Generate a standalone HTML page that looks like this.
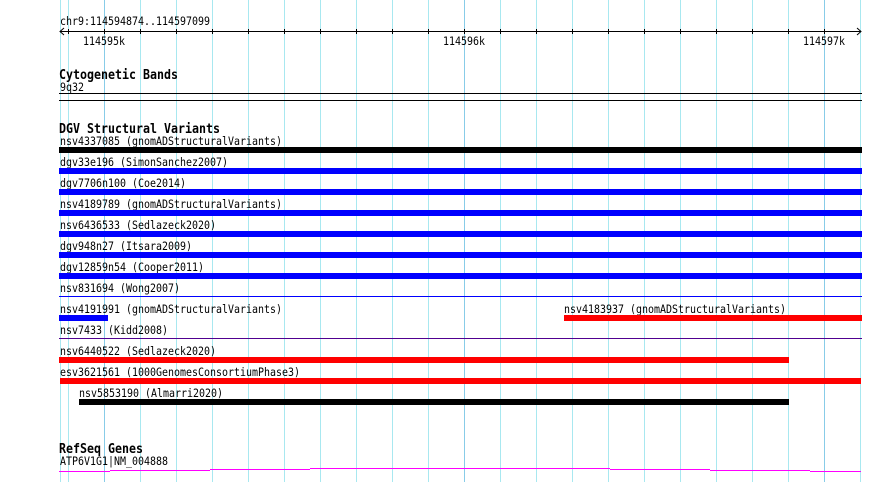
<!DOCTYPE html>
<html><head><style>
html,body{margin:0;padding:0;background:#fff;}
svg{display:block;}
text{font-family:"DejaVu Sans Mono","Liberation Mono",monospace;font-size:11.5px;fill:#000;}
.b{font-weight:bold;font-size:13px;}
</style></head><body>
<svg width="890" height="482" xmlns="http://www.w3.org/2000/svg">
<rect width="890" height="482" fill="#fff"/>
<g stroke-width="1">
<line x1="60.5" y1="0" x2="60.5" y2="482" stroke="#a8e8f0"/>
<line x1="68.5" y1="0" x2="68.5" y2="482" stroke="#a8e8f0"/>
<line x1="104.5" y1="0" x2="104.5" y2="482" stroke="#88cce8"/>
<line x1="140.5" y1="0" x2="140.5" y2="482" stroke="#a8e8f0"/>
<line x1="176.5" y1="0" x2="176.5" y2="482" stroke="#a8e8f0"/>
<line x1="212.5" y1="0" x2="212.5" y2="482" stroke="#a8e8f0"/>
<line x1="248.5" y1="0" x2="248.5" y2="482" stroke="#a8e8f0"/>
<line x1="284.5" y1="0" x2="284.5" y2="482" stroke="#a8e8f0"/>
<line x1="320.5" y1="0" x2="320.5" y2="482" stroke="#a8e8f0"/>
<line x1="356.5" y1="0" x2="356.5" y2="482" stroke="#a8e8f0"/>
<line x1="392.5" y1="0" x2="392.5" y2="482" stroke="#a8e8f0"/>
<line x1="428.5" y1="0" x2="428.5" y2="482" stroke="#a8e8f0"/>
<line x1="464.5" y1="0" x2="464.5" y2="482" stroke="#88cce8"/>
<line x1="500.5" y1="0" x2="500.5" y2="482" stroke="#a8e8f0"/>
<line x1="536.5" y1="0" x2="536.5" y2="482" stroke="#a8e8f0"/>
<line x1="572.5" y1="0" x2="572.5" y2="482" stroke="#a8e8f0"/>
<line x1="608.5" y1="0" x2="608.5" y2="482" stroke="#a8e8f0"/>
<line x1="644.5" y1="0" x2="644.5" y2="482" stroke="#a8e8f0"/>
<line x1="680.5" y1="0" x2="680.5" y2="482" stroke="#a8e8f0"/>
<line x1="716.5" y1="0" x2="716.5" y2="482" stroke="#a8e8f0"/>
<line x1="752.5" y1="0" x2="752.5" y2="482" stroke="#a8e8f0"/>
<line x1="788.5" y1="0" x2="788.5" y2="482" stroke="#a8e8f0"/>
<line x1="824.5" y1="0" x2="824.5" y2="482" stroke="#88cce8"/>
<line x1="860.5" y1="0" x2="860.5" y2="482" stroke="#a8e8f0"/>
</g>
<text x="60" y="25" textLength="150" lengthAdjust="spacingAndGlyphs">chr9:114594874..114597099</text>
<g stroke="#000" stroke-width="1" fill="none">
<line x1="60" y1="31.5" x2="861" y2="31.5"/>
<polyline points="64,28 60,31.5 64,35"/>
<polyline points="857,28 861,31.5 857,35"/>
<path d="M68.5 29v5M104.5 29v5M140.5 29v5M176.5 29v5M212.5 29v5M248.5 29v5M284.5 29v5M320.5 29v5M356.5 29v5M392.5 29v5M428.5 29v5M464.5 29v5M500.5 29v5M536.5 29v5M572.5 29v5M608.5 29v5M644.5 29v5M680.5 29v5M716.5 29v5M752.5 29v5M788.5 29v5M824.5 29v5"/>
</g>
<text x="83" y="45" textLength="42" lengthAdjust="spacingAndGlyphs">114595k</text>
<text x="443" y="45" textLength="42" lengthAdjust="spacingAndGlyphs">114596k</text>
<text x="803" y="45" textLength="42" lengthAdjust="spacingAndGlyphs">114597k</text>
<text class="b" x="59" y="79" textLength="119" lengthAdjust="spacingAndGlyphs">Cytogenetic Bands</text>
<text x="60" y="91" textLength="24" lengthAdjust="spacingAndGlyphs">9q32</text>
<line x1="59" y1="93.5" x2="862" y2="93.5" stroke="#000"/>
<line x1="59" y1="100.5" x2="862" y2="100.5" stroke="#000"/>
<text class="b" x="59" y="133" textLength="161" lengthAdjust="spacingAndGlyphs">DGV Structural Variants</text>
<text x="60" y="145" textLength="222" lengthAdjust="spacingAndGlyphs">nsv4337085 (gnomADStructuralVariants)</text>
<rect x="59" y="147" width="803" height="6" fill="#000"/>
<text x="60" y="166" textLength="168" lengthAdjust="spacingAndGlyphs">dgv33e196 (SimonSanchez2007)</text>
<rect x="59" y="168" width="803" height="6" fill="#0000ff"/>
<text x="60" y="187" textLength="126" lengthAdjust="spacingAndGlyphs">dgv7706n100 (Coe2014)</text>
<rect x="59" y="189" width="803" height="6" fill="#0000ff"/>
<text x="60" y="208" textLength="222" lengthAdjust="spacingAndGlyphs">nsv4189789 (gnomADStructuralVariants)</text>
<rect x="59" y="210" width="803" height="6" fill="#0000ff"/>
<text x="60" y="229" textLength="156" lengthAdjust="spacingAndGlyphs">nsv6436533 (Sedlazeck2020)</text>
<rect x="59" y="231" width="803" height="6" fill="#0000ff"/>
<text x="60" y="250" textLength="132" lengthAdjust="spacingAndGlyphs">dgv948n27 (Itsara2009)</text>
<rect x="59" y="252" width="803" height="6" fill="#0000ff"/>
<text x="60" y="271" textLength="144" lengthAdjust="spacingAndGlyphs">dgv12859n54 (Cooper2011)</text>
<rect x="59" y="273" width="803" height="6" fill="#0000ff"/>
<text x="60" y="292" textLength="120" lengthAdjust="spacingAndGlyphs">nsv831694 (Wong2007)</text>
<line x1="59" y1="296.5" x2="862" y2="296.5" stroke="#0000ff"/>
<text x="60" y="313" textLength="222" lengthAdjust="spacingAndGlyphs">nsv4191991 (gnomADStructuralVariants)</text>
<rect x="59" y="315" width="49" height="6" fill="#0000ff"/>
<text x="564" y="313" textLength="222" lengthAdjust="spacingAndGlyphs">nsv4183937 (gnomADStructuralVariants)</text>
<rect x="564" y="315" width="298" height="6" fill="#ff0000"/>
<text x="60" y="334" textLength="108" lengthAdjust="spacingAndGlyphs">nsv7433 (Kidd2008)</text>
<line x1="59" y1="338.5" x2="862" y2="338.5" stroke="#500090"/>
<text x="60" y="355" textLength="156" lengthAdjust="spacingAndGlyphs">nsv6440522 (Sedlazeck2020)</text>
<rect x="59" y="357" width="730" height="6" fill="#ff0000"/>
<text x="60" y="376" textLength="240" lengthAdjust="spacingAndGlyphs">esv3621561 (1000GenomesConsortiumPhase3)</text>
<rect x="60" y="378" width="801" height="6" fill="#ff0000"/>
<text x="79" y="397" textLength="144" lengthAdjust="spacingAndGlyphs">nsv5853190 (Almarri2020)</text>
<rect x="79" y="399" width="710" height="6" fill="#000"/>
<text class="b" x="59" y="453" textLength="84" lengthAdjust="spacingAndGlyphs">RefSeq Genes</text>
<text x="60" y="465" textLength="108" lengthAdjust="spacingAndGlyphs">ATP6V1G1|NM_004888</text>
<path d="M59 471.5H110M110 470.5H210M210 469.5H310M310 468.5H610M610 469.5H710M710 470.5H810M810 471.5H861" stroke="#ff00ff" stroke-width="1" fill="none"/>
</svg>
</body></html>
